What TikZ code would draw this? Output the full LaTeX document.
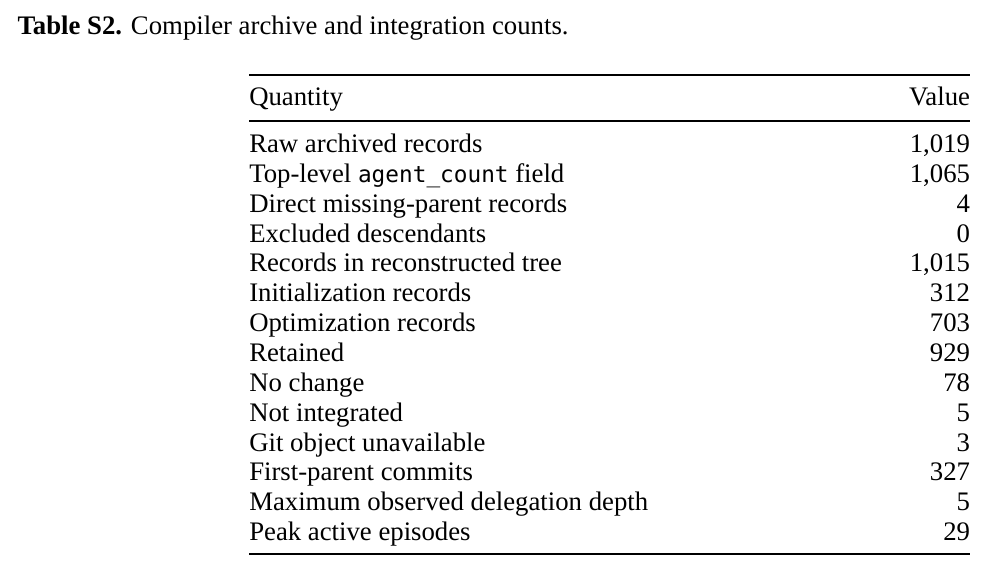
\documentclass[tikz,border=0pt]{standalone}
\usepackage{fontspec}
\setmainfont{Liberation Serif}
\newfontfamily\codefont{DejaVu Sans Mono}[Scale=0.85]
\usetikzlibrary{positioning}

\begin{document}
\begin{tikzpicture}[x=1pt, y=-1pt, node distance={0pt},
    qbelow/.style={below=of #1.south west, anchor=north west},
    vbelow/.style={below=of #1.south east, anchor=north east}]
                \tikzstyle{cell} = [inner sep=0pt, outer sep=0pt, text height=8.5pt, text depth=3.44pt, font=\fontsize{10.7}{12}\selectfont]
                \tikzstyle{qty} = [cell]
                \tikzstyle{val} = [cell]
                \tikzstyle{heavyrule} = [line width=0.8pt]
                \tikzstyle{lightrule} = [line width=0.5pt]

                \useasboundingbox (0,0) rectangle (397.6,229.6);

                % Caption
                \node[anchor=base west, inner sep=0pt, font=\fontsize{10.7}{12}\selectfont] (cap) at (6.8,14) {\textbf{Table S2.} Compiler archive and integration counts.};

                % Header row
                \node[qty, anchor=base west] (q0) at (99.7,42.3) {Quantity};
                \node[val, anchor=base east] (v0) at (388,42.3) {Value};

                % Quantity column
                \node[qty, anchor=base west] (q1) at (99.7,61) {Raw archived records};
                \node[qty, qbelow=q1] (q2) {Top-level {\codefont agent\_count} field};
                \node[qty, qbelow=q2] (q3) {Direct missing-parent records};
                \node[qty, qbelow=q3] (q4) {Excluded descendants};
                \node[qty, qbelow=q4] (q5) {Records in reconstructed tree};
                \node[qty, qbelow=q5] (q6) {Initialization records};
                \node[qty, qbelow=q6] (q7) {Optimization records};
                \node[qty, qbelow=q7] (q8) {Retained};
                \node[qty, qbelow=q8] (q9) {No change};
                \node[qty, qbelow=q9] (q10) {Not integrated};
                \node[qty, qbelow=q10] (q11) {Git object unavailable};
                \node[qty, qbelow=q11] (q12) {First-parent commits};
                \node[qty, qbelow=q12] (q13) {Maximum observed delegation depth};
                \node[qty, qbelow=q13] (q14) {Peak active episodes};

                % Value column
                \node[val, anchor=base east] (v1) at (388,61) {1,019};
                \node[val, vbelow=v1] (v2) {1,065};
                \node[val, vbelow=v2] (v3) {4};
                \node[val, vbelow=v3] (v4) {0};
                \node[val, vbelow=v4] (v5) {1,015};
                \node[val, vbelow=v5] (v6) {312};
                \node[val, vbelow=v6] (v7) {703};
                \node[val, vbelow=v7] (v8) {929};
                \node[val, vbelow=v8] (v9) {78};
                \node[val, vbelow=v9] (v10) {5};
                \node[val, vbelow=v10] (v11) {3};
                \node[val, vbelow=v11] (v12) {327};
                \node[val, vbelow=v12] (v13) {5};
                \node[val, vbelow=v13] (v14) {29};

                % Rules
                \coordinate (tl) at (99.7,30);
                \coordinate (tr) at (388,30);
                \coordinate (ml) at (99.7,48.4);
                \coordinate (mr) at (388,48.4);
                \coordinate (bl) at (99.7,221.7);
                \coordinate (br) at (388,221.7);
                \draw[heavyrule] (tl) -- (tr);
                \draw[lightrule] (ml) -- (mr);
                \draw[heavyrule] (bl) -- (br);
            \end{tikzpicture}
\end{document}
